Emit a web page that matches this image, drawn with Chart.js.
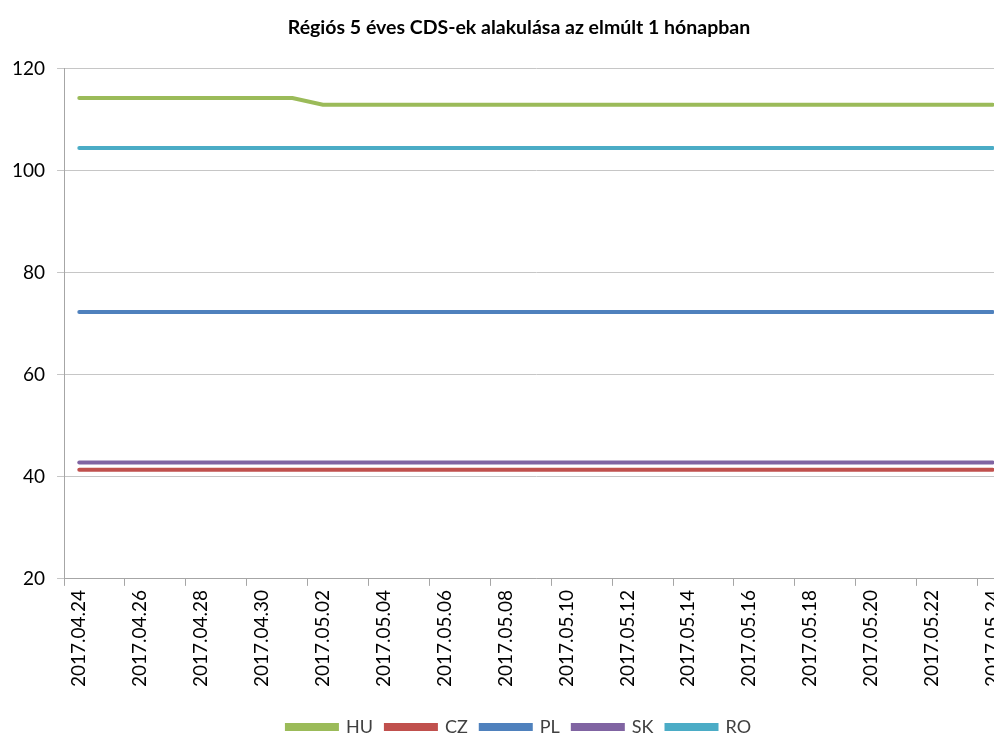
<!DOCTYPE html>
<html lang="hu">
<head>
    <meta charset="UTF-8">
    <title>Régiós 5 éves CDS-ek</title>
    <script src="https://cdn.jsdelivr.net/npm/chart.js"></script>
    <style>
        body {
            margin: 0;
            background: #fff;
            overflow: hidden;
        }
        .chart-wrapper {
            width: 994px;
            height: 735px;
            overflow: hidden;
        }
    </style>
</head>
<body>
    <div class="chart-wrapper">
        <canvas id="cdsChart" width="1038" height="746"></canvas>
    </div>

    <script>
        const dates = [
            '2017.04.24', '2017.04.25', '2017.04.26', '2017.04.27', '2017.04.28', '2017.04.29',
            '2017.04.30', '2017.05.01', '2017.05.02', '2017.05.03', '2017.05.04', '2017.05.05',
            '2017.05.06', '2017.05.07', '2017.05.08', '2017.05.09', '2017.05.10', '2017.05.11',
            '2017.05.12', '2017.05.13', '2017.05.14', '2017.05.15', '2017.05.16', '2017.05.17',
            '2017.05.18', '2017.05.19', '2017.05.20', '2017.05.21', '2017.05.22', '2017.05.23',
            '2017.05.24'
        ];

        const hu = [114.2, 114.2, 114.2, 114.2, 114.2, 114.2, 114.2, 114.2, 112.9, 112.9, 112.9,
            112.9, 112.9, 112.9, 112.9, 112.9, 112.9, 112.9, 112.9, 112.9, 112.9, 112.9, 112.9,
            112.9, 112.9, 112.9, 112.9, 112.9, 112.9, 112.9, 112.9];
        const cz = [41.4, 41.4, 41.4, 41.4, 41.4, 41.4, 41.4, 41.4, 41.4, 41.4, 41.4, 41.4, 41.4,
            41.4, 41.4, 41.4, 41.4, 41.4, 41.4, 41.4, 41.4, 41.4, 41.4, 41.4, 41.4, 41.4, 41.4,
            41.4, 41.4, 41.4, 41.4];
        const pl = [72.3, 72.3, 72.3, 72.3, 72.3, 72.3, 72.3, 72.3, 72.3, 72.3, 72.3, 72.3, 72.3,
            72.3, 72.3, 72.3, 72.3, 72.3, 72.3, 72.3, 72.3, 72.3, 72.3, 72.3, 72.3, 72.3, 72.3,
            72.3, 72.3, 72.3, 72.3];
        const sk = [42.8, 42.8, 42.8, 42.8, 42.8, 42.8, 42.8, 42.8, 42.8, 42.8, 42.8, 42.8, 42.8,
            42.8, 42.8, 42.8, 42.8, 42.8, 42.8, 42.8, 42.8, 42.8, 42.8, 42.8, 42.8, 42.8, 42.8,
            42.8, 42.8, 42.8, 42.8];
        const ro = [104.4, 104.4, 104.4, 104.4, 104.4, 104.4, 104.4, 104.4, 104.4, 104.4, 104.4,
            104.4, 104.4, 104.4, 104.4, 104.4, 104.4, 104.4, 104.4, 104.4, 104.4, 104.4, 104.4,
            104.4, 104.4, 104.4, 104.4, 104.4, 104.4, 104.4, 104.4];

        function series(label, data, color) {
            return {
                label: label,
                data: data,
                borderColor: color,
                backgroundColor: color,
                borderWidth: 4,
                borderCapStyle: 'round',
                pointRadius: 0,
                tension: 0
            };
        }

        const fontFamily = 'Lato, "Open Sans", sans-serif';

        new Chart(document.getElementById('cdsChart'), {
            type: 'line',
            data: {
                labels: dates,
                datasets: [
                    series('HU', hu, '#9bbb59'),
                    series('CZ', cz, '#c0504d'),
                    series('PL', pl, '#4f81bd'),
                    series('SK', sk, '#8064a2'),
                    series('RO', ro, '#4bacc6')
                ]
            },
            options: {
                responsive: false,
                animation: false,
                layout: {
                    padding: { left: 0, right: 0, top: 0, bottom: 0 }
                },
                plugins: {
                    title: {
                        display: true,
                        text: 'Régiós 5 éves CDS-ek alakulása az elmúlt 1 hónapban',
                        color: '#000',
                        font: { family: fontFamily, size: 19.5, weight: 'bold' },
                        padding: { top: 16, bottom: 29 }
                    },
                    legend: {
                        position: 'bottom',
                        labels: {
                            color: '#404040',
                            font: { family: fontFamily, size: 18 },
                            boxWidth: 50,
                            boxHeight: 4,
                            padding: 13
                        }
                    },
                    tooltip: { enabled: false }
                },
                scales: {
                    x: {
                        offset: true,
                        grid: {
                            offset: true,
                            drawOnChartArea: false,
                            drawTicks: true,
                            tickLength: 7,
                            color: (ctx) => ctx.index % 2 === 0 ? '#a6a6a6' : 'rgba(0,0,0,0)'
                        },
                        border: { color: '#a6a6a6' },
                        ticks: {
                            autoSkip: false,
                            maxRotation: 90,
                            minRotation: 90,
                            padding: 4,
                            color: '#000',
                            font: { family: fontFamily, size: 19 },
                            callback: function (value, index) {
                                return index % 2 === 0 ? this.getLabelForValue(value) : '';
                            }
                        },
                        afterFit: (scale) => { scale.height += 14; }
                    },
                    y: {
                        min: 20,
                        max: 120,
                        ticks: {
                            stepSize: 20,
                            padding: 12,
                            color: '#000',
                            font: { family: fontFamily, size: 19 }
                        },
                        grid: {
                            color: '#c6c6c6',
                            tickLength: 7
                        },
                        border: { color: '#a6a6a6' }
                    },
                    // empty right axis, only keeps room so the plot runs off the page edge like the original
                    yRight: {
                        position: 'right',
                        display: true,
                        ticks: { display: false },
                        grid: { display: false },
                        border: { display: false },
                        afterFit: (scale) => { scale.width = 30; }
                    }
                }
            }
        });
    </script>
</body>
</html>
